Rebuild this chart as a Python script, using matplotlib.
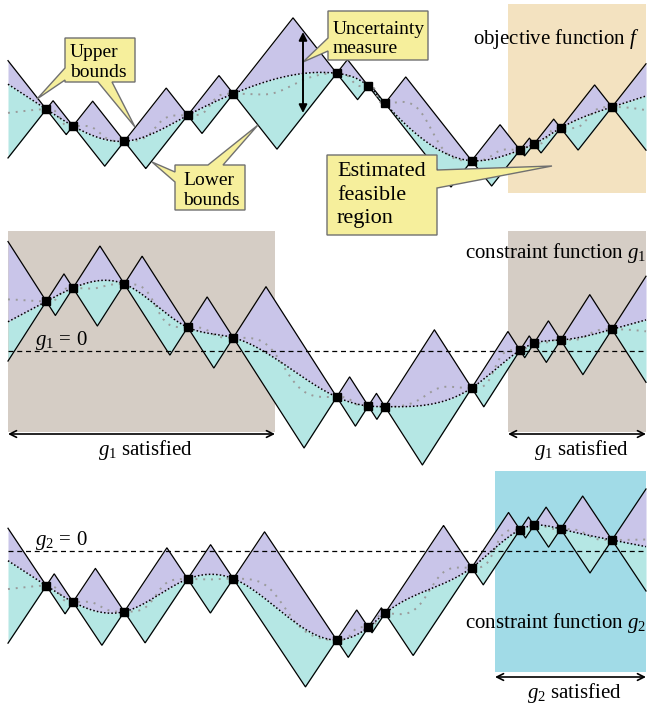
import numpy as np
import matplotlib
matplotlib.use("Agg")
import matplotlib.pyplot as plt
from matplotlib.patches import Polygon, Rectangle

plt.rcParams.update({
    "font.family": "Liberation Serif",
    "mathtext.fontset": "custom",
    "mathtext.rm": "Liberation Serif",
    "mathtext.it": "Liberation Serif:italic",
    "mathtext.bf": "Liberation Serif:bold",
})

# ---------------------------------------------------------------- data
# sample locations (shared by the three functions)
sample_x = [46.3, 73.0, 124.3, 187.7, 233.3, 336.7, 368.3, 385.0,
            471.7, 520.0, 534.0, 560.7, 612.0]

# observed values of the objective and the two constraints
f_values = [0.7, -16.0, -31.3, -5.3, 16.3, 36.7, 24.0, 6.7,
            -50.7, -40.0, -34.0, -18.0, 3.0]
g1_values = [49.7, 63.0, 67.0, 23.7, 13.3, -46.0, -55.0, -55.7,
             -37.0, 0.7, 7.7, 11.0, 21.7]
g2_values = [-34.7, -51.0, -60.7, -28.0, -27.7, -89.0, -76.3, -62.3,
             -16.7, 21.3, 25.7, 22.0, 11.0]

# Lipschitz constants used for the upper / lower bounds
lipschitz = {"f": 1.27, "g1": 1.56, "g2": 1.50}

# x-intervals of the estimated feasible / satisfied regions
f_feasible = [(508, 646)]
g1_satisfied = [(8, 275), (508, 646)]
g2_satisfied = [(495, 646)]

# domain of the plotted functions
X_LO, X_HI = 8.0, 646.0

# ---------------------------------------------------------------- style
PURPLE = "#c9c5e9"
CYAN = "#b5e7e4"
BEIGE = "#f3e2c0"
TAUPE = "#d5cdc5"
SKY = "#a1dbe7"
YELLOW = "#f6ef9c"
CALLOUT_EDGE = "#707070"

W, H = 650, 709
fig = plt.figure(figsize=(6.5, 7.09), dpi=100)


def layer(z, ref=None):
    """Full-figure axes; ref=None gives pixel-like coordinates (y down)."""
    ax = fig.add_axes([0, 0, 1, 1], zorder=z)
    ax.set_xlim(0, W)
    if ref is None:
        ax.set_ylim(H, 0)
    else:
        ax.set_ylim(ref - H, ref)
    ax.axis("off")
    return ax


def natural_spline(xs, ys, xq):
    xs = np.asarray(xs, float)
    ys = np.asarray(ys, float)
    n = len(xs)
    h = np.diff(xs)
    A = np.zeros((n, n))
    r = np.zeros(n)
    A[0, 0] = A[-1, -1] = 1.0
    for i in range(1, n - 1):
        A[i, i - 1] = h[i - 1]
        A[i, i] = 2 * (h[i - 1] + h[i])
        A[i, i + 1] = h[i]
        r[i] = 6 * ((ys[i + 1] - ys[i]) / h[i] - (ys[i] - ys[i - 1]) / h[i - 1])
    M = np.linalg.solve(A, r)
    out = np.empty_like(xq, dtype=float)
    for k, x in enumerate(xq):
        if x <= xs[0]:
            d0 = (ys[1] - ys[0]) / h[0] - h[0] * (2 * M[0] + M[1]) / 6
            out[k] = ys[0] + d0 * (x - xs[0])
        elif x >= xs[-1]:
            dn = (ys[-1] - ys[-2]) / h[-1] + h[-1] * (2 * M[-1] + M[-2]) / 6
            out[k] = ys[-1] + dn * (x - xs[-1])
        else:
            i = min(np.searchsorted(xs, x) - 1, n - 2)
            a = xs[i + 1] - x
            b = x - xs[i]
            hi = h[i]
            out[k] = (M[i] * a ** 3 / (6 * hi) + M[i + 1] * b ** 3 / (6 * hi)
                      + (ys[i] / hi - M[i] * hi / 6) * a
                      + (ys[i + 1] / hi - M[i + 1] * hi / 6) * b)
    return out


def inverse_distance(xs, ys, xq, power=3.0):
    xs = np.asarray(xs, float)
    ys = np.asarray(ys, float)
    d = np.abs(xq[:, None] - xs[None, :])
    d = np.maximum(d, 1e-6)
    w = 1.0 / d ** power
    return (w * ys).sum(axis=1) / w.sum(axis=1)


def draw_panel(ax, xs, vs, L):
    xs_a = np.asarray(xs, float)
    vs_a = np.asarray(vs, float)
    xg = np.union1d(np.linspace(X_LO, X_HI, 2600), xs_a)
    d = np.abs(xg[:, None] - xs_a[None, :])
    upper = np.min(vs_a + L * d, axis=1)
    lower = np.max(vs_a - L * d, axis=1)
    mean = np.clip(natural_spline(xs_a, vs_a, xg), lower, upper)
    ax.fill_between(xg, mean, upper, color=PURPLE, lw=0, zorder=1)
    ax.fill_between(xg, lower, mean, color=CYAN, lw=0, zorder=1)
    ax.plot(xg, upper, color="black", lw=0.9, zorder=2)
    ax.plot(xg, lower, color="black", lw=0.9, zorder=2)
    ax.plot(xg, inverse_distance(xs_a, vs_a, xg), color="#9a9a9a",
            ls=(0, (1, 3)), lw=1.4, zorder=3)
    ax.plot(xg, mean, color="black", ls=(0, (1, 1.4)), lw=1.1, zorder=3)
    ax.plot(xs_a, vs_a, "s", color="black", ms=6, zorder=4)


# background layer: shaded regions
bg = layer(0)
for x0, x1 in f_feasible:
    bg.add_patch(Rectangle((x0, 4), x1 - x0, 189, fc=BEIGE, ec="none"))
for x0, x1 in g1_satisfied:
    bg.add_patch(Rectangle((x0, 231), x1 - x0, 201, fc=TAUPE, ec="none"))
for x0, x1 in g2_satisfied:
    bg.add_patch(Rectangle((x0, 471), x1 - x0, 201, fc=SKY, ec="none"))

# the three function panels (value 0 of each sits at the given pixel row)
ax_f = layer(2, ref=110)
ax_g1 = layer(2, ref=351)
ax_g2 = layer(2, ref=551)
draw_panel(ax_f, sample_x, f_values, lipschitz["f"])
draw_panel(ax_g1, sample_x, g1_values, lipschitz["g1"])
draw_panel(ax_g2, sample_x, g2_values, lipschitz["g2"])
for ax in (ax_g1, ax_g2):
    ax.plot([X_LO, X_HI], [0, 0], color="black", lw=0.9,
            ls=(0, (4, 3)), zorder=1.5)

# foreground layer: callouts, labels, arrows
fg = layer(5)


def callout(verts, lines, x, baselines, size):
    fg.add_patch(Polygon(verts, closed=True, fc=YELLOW, ec=CALLOUT_EDGE,
                         lw=1.0, joinstyle="miter"))
    for txt, yb in zip(lines, baselines):
        fg.text(x, yb, txt, fontsize=size, ha="left", va="baseline")


callout([(65, 38), (135, 38), (135, 82), (112, 82), (135, 127), (98, 82),
         (65, 82), (65, 80), (37, 99), (65, 68)],
        ["Upper", "bounds"], 70, [57, 77], 14)
callout([(175, 165), (208, 165), (258, 125), (223, 165), (245, 165),
         (245, 210), (175, 210), (175, 182), (152, 162), (175, 172)],
        ["Lower", "bounds"], 183, [185, 205], 14)
callout([(328, 11), (428, 11), (428, 60), (328, 60), (328, 51),
         (303, 62), (328, 38)],
        ["Uncertainty", "measure"], 333, [34, 53], 14)
callout([(327, 155), (437, 155), (437, 170), (552, 166), (437, 188),
         (437, 235), (327, 235)],
        ["Estimated", "feasible", "region"], 337, [176, 200, 223], 16)

# uncertainty double arrow
fg.annotate("", xy=(303, 32), xytext=(303, 113),
            arrowprops=dict(arrowstyle="<|-|>", color="black", lw=1.4,
                            mutation_scale=12, shrinkA=0, shrinkB=0))

# panel titles
fg.text(640, 44, r"objective function $f$", fontsize=15, ha="right",
        va="baseline")
fg.text(646, 258, r"constraint function $g_{\mathit{1}}$", fontsize=15,
        ha="right", va="baseline")
fg.text(646, 628, r"constraint function $g_{\mathit{2}}$", fontsize=15,
        ha="right", va="baseline")

# zero-level labels
fg.text(35, 345, r"$g_{\mathit{1}}\,=\,\mathit{0}$", fontsize=15,
        ha="left", va="baseline")
fg.text(35, 545, r"$g_{\mathit{2}}\,=\,\mathit{0}$", fontsize=15,
        ha="left", va="baseline")

# satisfied-interval arrows and labels
for (x0, x1), yb, ya, num in [(g1_satisfied[0], 455, 434, 1),
                               (g1_satisfied[1], 455, 434, 1),
                               (g2_satisfied[0], 698, 677, 2)]:
    fg.annotate("", xy=(x0, ya), xytext=(x1, ya),
                arrowprops=dict(arrowstyle="<->", color="black", lw=1.2,
                                mutation_scale=12, shrinkA=0, shrinkB=0))
    fg.text((x0 + x1) / 2 + 4, yb,
            r"$g_{\mathit{%d}}$ satisfied" % num, fontsize=15,
            ha="center", va="baseline")

fig.savefig("out.png", dpi=100, facecolor="white")
